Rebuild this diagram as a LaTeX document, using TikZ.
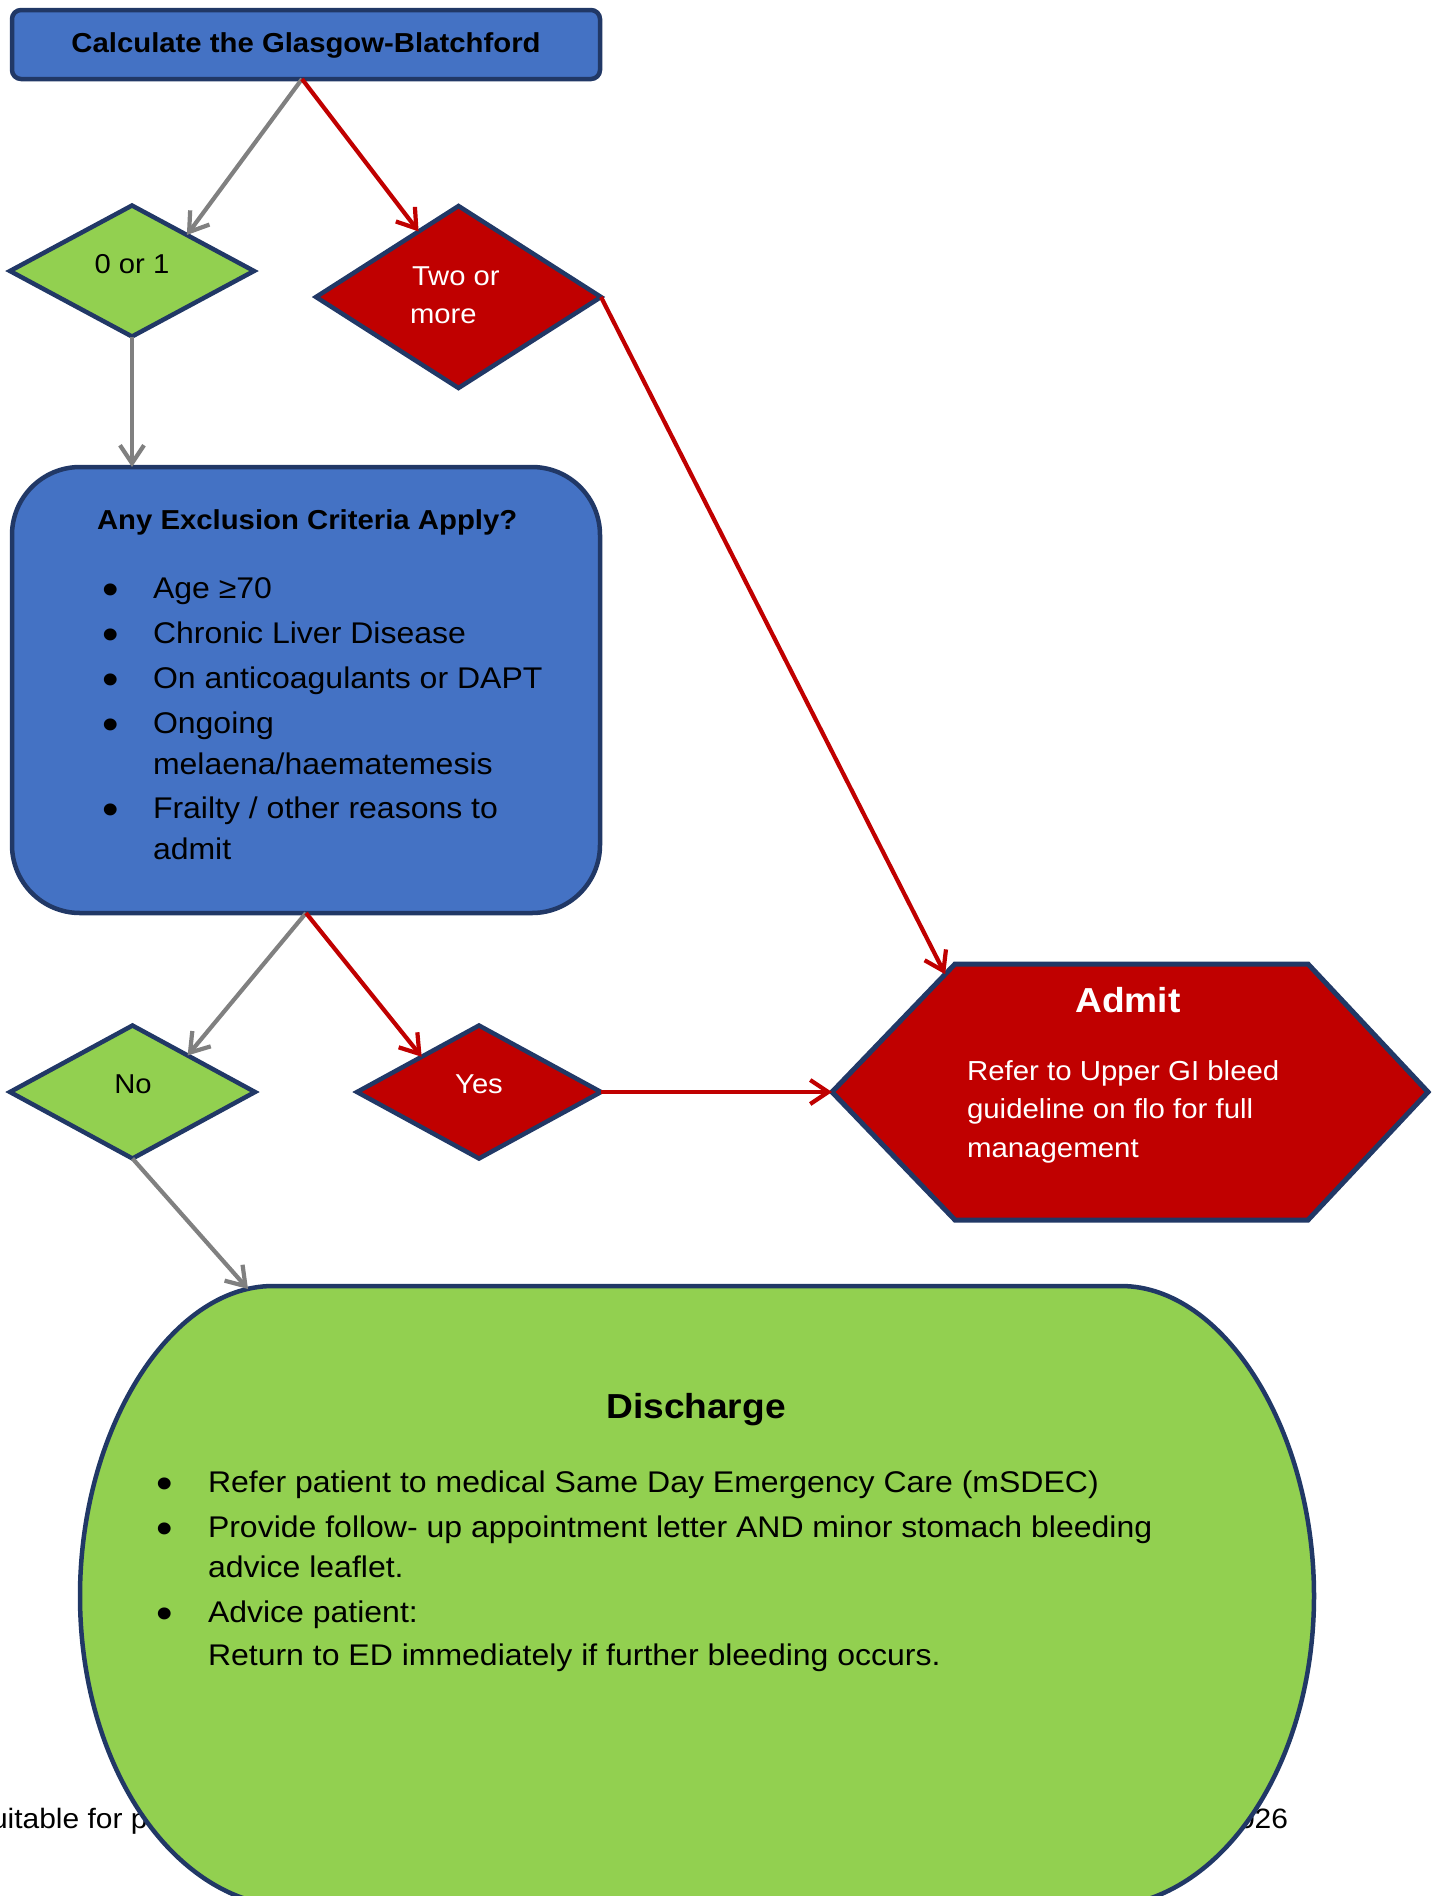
\documentclass[tikz,border=0pt]{standalone}
\usepackage{fontspec}
\setmainfont{Liberation Sans}[FakeStretch=1.07]
\usetikzlibrary{shapes.geometric,arrows.meta,calc}
\definecolor{navy}{RGB}{33,56,102}
\definecolor{blu}{RGB}{68,114,196}
\definecolor{grn}{RGB}{146,208,80}
\definecolor{rd}{RGB}{192,0,0}
\definecolor{gry}{RGB}{128,128,128}
\begin{document}
\begin{tikzpicture}[x=1pt,y=-1pt,
  box/.style={draw=navy, line width=4.5pt, inner sep=0pt, outer sep=0pt},
  dmd/.style={diamond, draw=navy, line width=4.5pt, inner sep=0pt, outer sep=0pt},
  tx/.style={inner sep=0pt, outer sep=0pt},
  body/.style={tx, font=\fontsize{29.9}{36}\selectfont},
  blt/.style={tx, anchor=base, font=\fontsize{44}{44}\selectfont},
  small/.style={tx, font=\fontsize{27.3}{33}\selectfont},
  smallbf/.style={tx, font=\bfseries\fontsize{27.4}{33}\selectfont},
  bigbf/.style={tx, font=\bfseries\fontsize{34.7}{40}\selectfont},
  garr/.style={draw=gry, line width=4.2pt, -{Straight Barb[length=18pt,width=24pt]}},
  rarr/.style={draw=rd, line width=4.2pt, -{Straight Barb[length=18pt,width=24pt]}},
]
\useasboundingbox (0,0) rectangle (1435,1896);
\clip (0,0) rectangle (1435,1896);

% footer text (behind the discharge shape)
\node[tx, font=\fontsize{28}{33}\selectfont, anchor=base west] (footL) at (-9,1828) {uitable for p};
\node[tx, font=\fontsize{28}{33}\selectfont, anchor=base east] (footR) at (1288,1828) {026};

% top box
\node[box, fill=blu, rounded corners=9pt, minimum width=588pt, minimum height=69pt] (top) at (306,44.5) {};
\node[smallbf, anchor=base] (toptxt) at (306,52) {Calculate the Glasgow-Blatchford};

% first diamonds
\node[dmd, fill=grn, minimum width=244pt, minimum height=131pt] (d01) at (132,271) {};
\node[small, anchor=base] (d01txt) at (132,273) {0 or 1};
\node[dmd, fill=rd, minimum width=285pt, minimum height=182pt] (d2) at (458.5,297) {};
\node[small, anchor=base west, text=white] (d2txtA) at (412,285) {Two or};
\node[small, anchor=base west, text=white] (d2txtB) at (410,323) {more};

% exclusion box
\node[box, fill=blu, rounded corners=68pt, minimum width=588pt, minimum height=446pt] (ex) at (306,690) {};
\node[smallbf, anchor=base west] (extitle) at (97,529) {Any Exclusion Criteria Apply?};
\node[blt] (exb1) at (111,604) {•};
\node[body, anchor=base west] (ext1) at (153,598) {Age ≥70};
\node[blt] (exb2) at (111,649) {•};
\node[body, anchor=base west] (ext2) at (153,643) {Chronic Liver Disease};
\node[blt] (exb3) at (111,694) {•};
\node[body, anchor=base west] (ext3) at (153,688) {On anticoagulants or DAPT};
\node[blt] (exb4) at (111,739) {•};
\node[body, anchor=base west] (ext4) at (153,733) {Ongoing};
\node[body, anchor=base west] (ext4b) at (153,774) {melaena/haematemesis};
\node[blt] (exb5) at (111,824) {•};
\node[body, anchor=base west] (ext5) at (153,818) {Frailty / other reasons to};
\node[body, anchor=base west] (ext5b) at (153,859) {admit};

% second diamonds
\node[dmd, fill=grn, minimum width=245pt, minimum height=133pt] (dNo) at (132.5,1092) {};
\node[small, anchor=base] (dNotxt) at (133,1093) {No};
\node[dmd, fill=rd, minimum width=244pt, minimum height=133pt] (dYes) at (479,1092) {};
\node[small, anchor=base, text=white] (dYestxt) at (479,1093) {Yes};

% admit hexagon
\coordinate (aL) at (832,1092);
\coordinate (aTL) at (955,964);
\coordinate (aTR) at (1308,964);
\coordinate (aR) at (1428,1092);
\coordinate (aBR) at (1308,1220);
\coordinate (aBL) at (955,1220);
\draw[draw=navy, fill=rd, line width=5pt, line join=miter] (aL) -- (aTL) -- (aTR) -- (aR) -- (aBR) -- (aBL) -- cycle;
\node[bigbf, anchor=base, text=white] (admtitle) at (1128,1012) {Admit};
\node[tx, font=\fontsize{27.5}{33}\selectfont, anchor=base west, text=white] (adm1) at (967,1080) {Refer to Upper GI bleed};
\node[tx, font=\fontsize{27.5}{33}\selectfont, anchor=base west, text=white] (adm2) at (967,1118) {guideline on flo for full};
\node[tx, font=\fontsize{27.5}{33}\selectfont, anchor=base west, text=white] (adm3) at (967,1157) {management};

% discharge shape
\draw[draw=navy, fill=grn, line width=4.5pt]
  (80,1596) .. controls (80,1430) and (170,1286) .. (273,1286)
  -- (1121,1286) .. controls (1224,1286) and (1314,1430) .. (1314,1596)
  .. controls (1314,1768) and (1218,1907) .. (1100,1907)
  -- (294,1907) .. controls (176,1907) and (80,1768) .. (80,1596) -- cycle;
\coordinate (disin) at (248,1289);
\node[bigbf, anchor=base] (distitle) at (696,1418) {Discharge};
\node[blt] (db1) at (165,1498) {•};
\node[body, anchor=base west] (dt1) at (208,1492) {Refer patient to medical Same Day Emergency Care (mSDEC)};
\node[blt] (db2) at (165,1543) {•};
\node[body, anchor=base west] (dt2) at (208,1537) {Provide follow- up appointment letter AND minor stomach bleeding};
\node[body, anchor=base west] (dt2b) at (208,1577) {advice leaflet.};
\node[blt] (db3) at (165,1628) {•};
\node[body, anchor=base west] (dt3) at (208,1622) {Advice patient:};
\node[body, anchor=base west] (dt3b) at (208,1665) {Return to ED immediately if further bleeding occurs.};

% connectors
\draw[garr] ($(top.south)+(-4,0)$) -- ($(d01.north)!0.45!(d01.east)$);
\draw[rarr] ($(top.south)+(-4,0)$) -- ($(d2.north)!0.28!(d2.west)$);
\draw[garr] (d01.south) -- (d01.south |- ex.north);
\draw[rarr] (d2.east) -- ($(aTL)!0.08!(aL)$);
\draw[garr] (ex.south) -- ($(dNo.north)!0.45!(dNo.east)$);
\draw[rarr] (ex.south) -- ($(dYes.north)!0.47!(dYes.west)$);
\draw[rarr] (dYes.east) -- (aL);
\draw[garr] (dNo.south) -- (disin);
\end{tikzpicture}
\end{document}
